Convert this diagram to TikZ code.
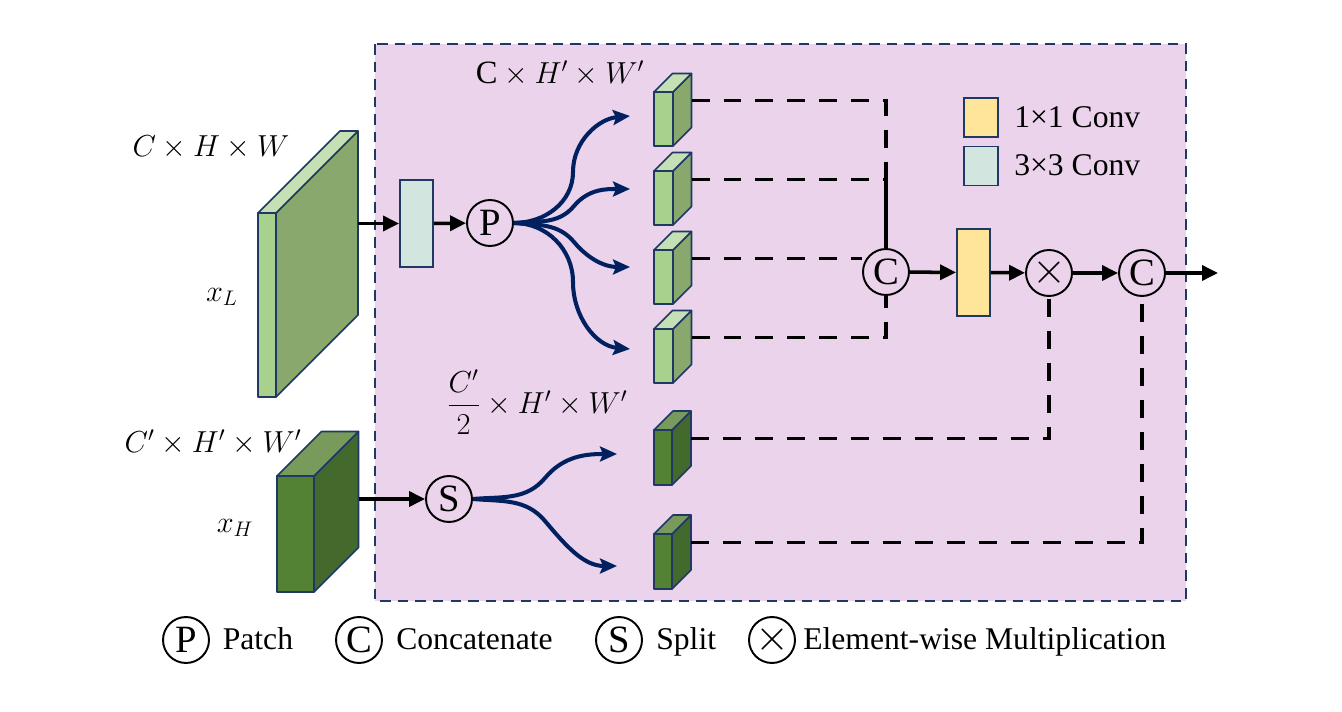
\documentclass[tikz,border=0pt]{standalone}
\usepackage{amsmath}
\usepackage{fontspec}
\setmainfont{Liberation Serif}
\usepackage{tikz}
\usetikzlibrary{positioning}
\usetikzlibrary{arrows.meta}
\usetikzlibrary{calc}
\definecolor{mypurple}{RGB}{234,211,235}
\definecolor{myborder}{RGB}{31,56,100}
\definecolor{mynavy}{RGB}{0,32,96}
\definecolor{myteal}{RGB}{210,229,222}
\definecolor{myyellow}{RGB}{255,229,153}
\definecolor{lgfront}{RGB}{169,209,142}
\definecolor{lgtop}{RGB}{197,224,180}
\definecolor{lgside}{RGB}{137,168,110}
\definecolor{dgfront}{RGB}{84,130,53}
\definecolor{dgtop}{RGB}{120,155,92}
\definecolor{dgside}{RGB}{68,105,45}

% feature map: name of right-edge point, x, y (front top left), w, h, depth, palette
\newcommand{\fmap}[7]{%
  \draw[fmapline,fill=#7side] (#2+#4,#3) -- ++(#6,-#6) -- ++(0,#5) -- ++(-#6,#6) -- cycle;
  \draw[fmapline,fill=#7top] (#2,#3) -- ++(#6,-#6) -- ++(#4,0) -- ++(-#6,#6) -- cycle;
  \draw[fmapline,fill=#7front] (#2,#3) rectangle ++(#4,#5);
  \coordinate (#1) at (#2+#4+#6,#3-#6+#5/2);
}

\begin{document}
\begin{tikzpicture}[x=0.02cm,y=-0.02cm,
    fmapline/.style={draw=myborder,line width=0.9pt,line join=round},
    op/.style={circle,draw,fill=mypurple,line width=1.1pt,minimum size=0.92cm,inner sep=0pt,font=\fontsize{22}{24}\selectfont},
    conv/.style={draw=myborder,line width=1.1pt,minimum width=0.66cm,minimum height=1.74cm,inner sep=0pt},
    dims/.style={font=\fontsize{18.5}{21}\selectfont,inner sep=0pt},
    legtext/.style={font=\fontsize{18}{21}\selectfont,inner sep=0pt,anchor=west,text height=14pt,text depth=3pt},
    flow/.style={-{Triangle[length=0.32cm,width=0.3cm]},line width=2pt},
    branch/.style={-{Stealth[length=0.34cm,width=0.3cm,inset=0.06cm]},line width=2.3pt,draw=mynavy},
    dashline/.style={line width=2.2pt,dash pattern=on 0.36cm off 0.28cm},
    solidline/.style={line width=2.2pt}]

  \useasboundingbox (0,0) rectangle (1342,712);
  \draw[myborder,fill=mypurple,line width=1pt,dash pattern=on 6pt off 4pt] (375,44) rectangle (1186,601);

  % inputs
  \fmap{xL-e}{258}{213}{18}{184}{82}{lg}
  \fmap{xH-e}{277}{476}{37}{116}{44.5}{dg}
  \node[dims] (dimL) at (211,147) {$C\times H\times W$};
  \node[dims] (nameL) at (222,297) {$x_L$};
  \node[dims] (dimH) at (213,442) {$C'\times H'\times W'$};
  \node[dims] (nameH) at (235,528) {$x_H$};

  % patch branch
  \node[conv,fill=myteal] (conv3) at (416.5,223.5) {};
  \node[op] (P) at (490,223) {P};
  \fmap{l1}{654}{92}{19}{54}{18.5}{lg}
  \fmap{l2}{654}{171}{19}{54}{18.5}{lg}
  \fmap{l3}{654}{250}{19}{54}{18.5}{lg}
  \fmap{l4}{654}{329}{19}{54}{18.5}{lg}
  \node[dims] (dimP) at (560,73) {$\mathrm{C}\times H'\times W'$};
  \coordinate (t1) at (630,116);
  \coordinate (t2) at (630,189);
  \coordinate (t3) at (630,267);
  \coordinate (t4) at (630,349);
  \draw[branch] (P.east) to[out=0,in=-90] (573,172) to[out=90,in=185] (t1);
  \draw[branch] (P.east) to[out=5,in=-130] (574,206) to[out=50,in=180] (t2);
  \draw[branch] (P.east) to[out=-5,in=130] (574,242) to[out=-50,in=180] (t3);
  \draw[branch] (P.east) to[out=0,in=90] (573,282) to[out=-90,in=175] (t4);

  % split branch
  \node[op] (S) at (449,499) {S};
  \fmap{d1}{654}{430}{18}{55}{19}{dg}
  \fmap{d2}{654}{534}{18}{55}{19}{dg}
  \node[dims] (dimS) at (537,402) {$\dfrac{C'}{2}\times H'\times W'$};
  \coordinate (s1) at (617,454);
  \coordinate (s2) at (617,566);
  \draw[branch] (S.east) to[out=5,in=-130] (545,478) to[out=50,in=180] (s1);
  \draw[branch] (S.east) to[out=-5,in=130] (545,521) to[out=-50,in=180] (s2);

  % fusion
  \node[op] (C1) at (886,272) {C};
  \node[conv,fill=myyellow] (conv1) at (973.5,272.5) {};
  \node[op] (X) at (1049,273) {\fontsize{27}{27}\selectfont$\times$};
  \node[op] (C2) at (1142,273) {C};
  \coordinate (out) at (1218,273);

  \draw[flow] (xL-e |- conv3) -- (conv3.west);
  \draw[flow] (conv3) -- (P);
  \draw[flow] (xH-e |- S) -- (S);
  \draw[flow] (C1) -- (conv1);
  \draw[flow] (conv1) -- (X);
  \draw[flow] (X) -- (C2);
  \draw[flow] (C2) -- (out);

  \draw[dashline] (l1) -| (l2 -| C1);
  \draw[dashline] (l2) -- (l2 -| C1);
  \draw[solidline] (l2 -| C1) -- (C1.north);
  \draw[dashline] (l3) -- (l3 -| C1.west);
  \draw[dashline] (l4) -| (C1.south);
  \draw[dashline] (d1) -| (X.south);
  \draw[dashline] (d2) -| (C2.south);

  % legends
  \node[conv,fill=myyellow,minimum width=0.68cm,minimum height=0.78cm] (key1) at (981,117.5) {};
  \node[legtext,right=0.3cm of key1] (key1txt) {1×1 Conv};
  \node[conv,fill=myteal,minimum width=0.68cm,minimum height=0.78cm] (key3) at (981,166) {};
  \node[legtext,right=0.3cm of key3] (key3txt) {3×3 Conv};

  \node[op,fill=white] (lgP) at (186,640) {P};
  \node[legtext,right=0.25cm of lgP] (lgPtxt) {Patch};
  \node[op,fill=white] (lgC) at (359,640) {C};
  \node[legtext,right=0.26cm of lgC] (lgCtxt) {Concatenate};
  \node[op,fill=white] (lgS) at (619,640) {S};
  \node[legtext,right=0.26cm of lgS] (lgStxt) {Split};
  \node[op,fill=white] (lgX) at (772,640) {\fontsize{27}{27}\selectfont$\times$};
  \node[legtext,right=0.14cm of lgX] (lgXtxt) {Element-wise Multiplication};
\end{tikzpicture}
\end{document}
